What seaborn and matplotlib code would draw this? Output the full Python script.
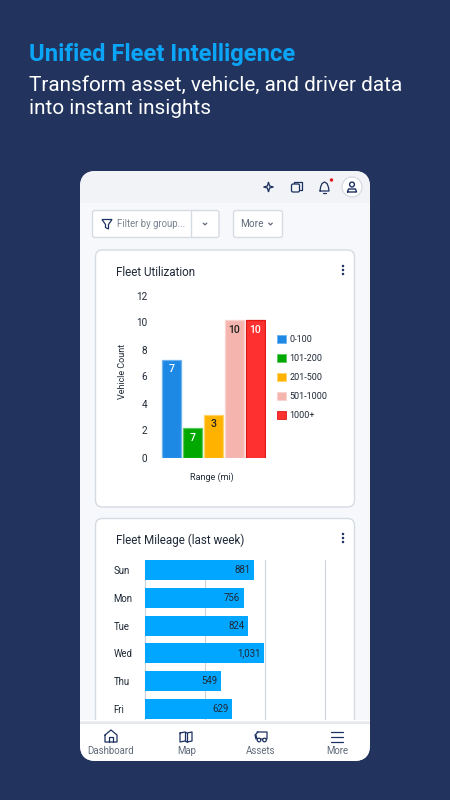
import matplotlib
matplotlib.use("Agg")
import matplotlib.pyplot as plt
import pandas as pd
import seaborn as sns
from matplotlib.patches import Circle, FancyBboxPatch, Polygon, Rectangle

W, H = 450, 800

# ── Data ───────────────────────────────────────────────────────────────────
ranges = ["0-100", "101-200", "201-500", "501-1000", "1000+"]
vehicle_counts = [7.2, 2.15, 3.15, 10.15, 10.15]
count_labels = ["7", "7", "3", "10", "10"]
count_label_colors = ["white", "white", "#222222", "#222222", "white"]
range_colors = ["#1E88E5", "#00A800", "#FFB300", "#F5B5AE", "#FF3030"]
range_edges = ["#6DB3F0", "#5CC85C", "#FFD466", "#F9D3CE", "#E01818"]
count_ticks = [0, 2, 4, 6, 8, 10, 12]

days = ["Sun", "Mon", "Tue", "Wed", "Thu", "Fri"]
mileage_lengths = [913, 825, 861, 995, 636, 727]
mileage_labels = ["881", "756", "824", "1,031", "549", "629"]
mileage_grid = [0, 500, 1000, 1500]

NAVY = "#22335E"
BLUE_TITLE = "#0BA5F7"
INK = "#1F2937"
ICON = "#1D3160"
GREY = "#5F6B7A"
BORDER = "#D5DBE2"

sns.set_theme(style="white")
plt.rcParams["font.family"] = ["Roboto", "DejaVu Sans"]


def px(size):
    """Font size in points from a size in pixels at dpi 100."""
    return size * 0.72


def axes_px(fig, left, top, right, bottom, **kwargs):
    return fig.add_axes(
        [left / W, 1 - bottom / H, (right - left) / W, (bottom - top) / H], **kwargs
    )


def card(ax, x0, y0, x1, y1, r, fc, ec="none", lw=1.0, z=1):
    ax.add_patch(FancyBboxPatch((x0 + r, y0 + r), x1 - x0 - 2 * r, y1 - y0 - 2 * r,
                                boxstyle=f"round,pad={r},rounding_size={r}",
                                fc=fc, ec=ec, lw=lw, zorder=z))


def chevron(ax, x, y, color=GREY):
    ax.plot([x - 1.8, x, x + 1.8], [y - 0.9, y + 0.9, y - 0.9], color=color, lw=0.9, zorder=4)


def kebab(ax, x, y):
    for dy in (-4, 0, 4):
        ax.add_patch(Circle((x, y + dy), 1.25, fc=ICON, ec="none", zorder=4))


fig = plt.figure(figsize=(W / 100, H / 100), dpi=100, facecolor=NAVY)

# ── Background, phone card and panels ──────────────────────────────────────
bg = axes_px(fig, 0, 0, W, H, zorder=0)
bg.set_xlim(0, W)
bg.set_ylim(H, 0)
bg.axis("off")

bg.text(29, 54.5, "Unified Fleet Intelligence", color=BLUE_TITLE, fontsize=px(23.7),
        fontweight="bold", va="center", ha="left")
bg.text(29, 85, "Transform asset, vehicle, and driver data", color="white",
        fontsize=px(20.8), va="center", ha="left")
bg.text(29, 108, "into instant insights", color="white", fontsize=px(20.8),
        va="center", ha="left")

card(bg, 80, 171, 370, 761, 16, "#F7F8FB")
card(bg, 80, 171, 370, 203, 16, "#F1F3F6", z=1.05)
bg.add_patch(Rectangle((80, 190), 290, 13, fc="#F1F3F6", ec="none", zorder=1.1))

# header icons
sparkle = [(268.5, 182), (269.6, 186), (273.5, 187), (269.6, 188), (268.5, 192),
           (267.4, 188), (263.5, 187), (267.4, 186)]
bg.add_patch(Polygon(sparkle, closed=True, fc="none", ec=ICON, lw=0.9, zorder=4))
card(bg, 291.5, 184, 299.5, 192, 1.5, "#F1F3F6", ICON, 0.9, z=4)
bg.plot([294, 294, 302, 302, 299.5], [184, 182, 182, 189.5, 189.5], color=ICON, lw=0.9, zorder=3.9)
bg.plot([320, 320.6, 322, 324.5, 327, 328.4, 329, 320], [191, 187, 183.5, 182, 183.5, 187, 191, 191],
        color=ICON, lw=0.9, zorder=4)
bg.plot([323, 326], [193, 193], color=ICON, lw=0.9, zorder=4)
bg.add_patch(Circle((331.5, 180), 1.7, fc="#E0141E", ec="none", zorder=4))
bg.add_patch(Circle((352, 187), 10, fc="white", ec=BORDER, lw=0.9, zorder=3))
bg.add_patch(Circle((352, 184.5), 2.4, fc="none", ec=ICON, lw=1.0, zorder=4))
bg.plot([347.5, 348.5, 355.5, 356.5, 347.5], [192, 189, 189, 192, 192], color=ICON, lw=1.0, zorder=4)

# filter controls
card(bg, 92.5, 210.5, 219, 237.5, 2.5, "white", BORDER)
bg.plot([191, 191], [211, 237], color=BORDER, lw=1.0, zorder=3)
bg.add_patch(Polygon([(102, 219.5), (112, 219.5), (108.5, 224.5), (108.5, 229), (105.5, 227.5),
                      (105.5, 224.5)], closed=True, fc="none", ec=ICON, lw=0.9, zorder=4))
bg.text(117, 224, "Filter by group...", color="#7A8594", fontsize=px(9.7), va="center")
chevron(bg, 205, 224)
card(bg, 233.5, 210.5, 282.5, 237.5, 2.5, "white", BORDER)
bg.text(240.5, 224, "More", color=GREY, fontsize=px(10), va="center")
chevron(bg, 270.5, 224)

# chart panels
card(bg, 95.5, 250, 354.5, 507, 7, "white", BORDER)
card(bg, 95.5, 518.5, 354.5, 755, 7, "white", BORDER)
bg.text(116, 272, "Fleet Utilization", color=INK, fontsize=px(11.6), va="center")
bg.text(116, 540, "Fleet Mileage (last week)", color=INK, fontsize=px(11.6), va="center")
kebab(bg, 343, 270)
kebab(bg, 343, 538)

# ── Fleet Utilization ──────────────────────────────────────────────────────
util_df = pd.DataFrame({"range": ranges, "count": vehicle_counts})
ax1 = axes_px(fig, 161, 295.5, 266, 457.5, zorder=2)
sns.barplot(data=util_df, x="range", y="count", hue="range", palette=range_colors,
            order=ranges, hue_order=ranges, width=0.88, dodge=False, legend=True,
            saturation=1, ax=ax1)
ax1.patch.set_alpha(0)
sns.despine(ax=ax1, left=True, bottom=True)
ax1.set_ylim(0, 12)
ax1.set_xlim(-0.5, 4.5)
ax1.set_yticks(count_ticks)
ax1.tick_params(axis="y", length=0, pad=10, labelsize=px(10), labelcolor=INK)
ax1.set_xticks([])
ax1.set_xlabel("Range (mi)", fontsize=px(9), color=INK)
ax1.xaxis.set_label_coords(0.48, -0.095)
ax1.set_ylabel("Vehicle Count", fontsize=px(9), color=INK)
ax1.yaxis.set_label_coords(-0.32, 0.53)

for container, label, color, edge in zip(ax1.containers, count_labels, count_label_colors, range_edges):
    for bar in container:
        bar.set_edgecolor(edge)
        bar.set_linewidth(0.9)
    ax1.bar_label(container, labels=[label], label_type="edge", padding=-3,
                  color=color, fontsize=px(10.5), fontweight="medium")
    for text in ax1.texts[-1:]:
        text.set_va("top")

leg = ax1.legend(loc="upper left", bbox_to_anchor=(1.105, 0.755), frameon=False,
                 fontsize=px(9), handlelength=0.95, handleheight=0.95,
                 labelspacing=1.1, handletextpad=0.42, borderpad=0, borderaxespad=0)
for handle, edge in zip(leg.legend_handles, range_edges):
    handle.set_edgecolor(edge)
    handle.set_linewidth(0.6)
for text in leg.get_texts():
    text.set_color(INK)

# ── Fleet Mileage ──────────────────────────────────────────────────────────
mileage_df = pd.DataFrame({"day": days, "miles": mileage_lengths})
ax2 = axes_px(fig, 144.7, 560, 324.7, 723, zorder=2)
ax2.patch.set_alpha(0)
sns.barplot(data=mileage_df, y="day", x="miles", order=days, color="#00A6FF", width=0.72,
            saturation=1, linewidth=0, ax=ax2, zorder=3)
ax2.set_xlim(0, 1500)
ax2.set_ylim(5.5, -0.36)
ax2.set_xticks(mileage_grid)
ax2.set_xticklabels([])
ax2.set_xlabel("")
ax2.set_ylabel("")
ax2.grid(axis="x", color="#CBD2DA", lw=0.8, zorder=0, clip_on=False)
ax2.grid(axis="y", visible=False)
ax2.set_axisbelow(True)
sns.despine(ax=ax2, left=True, bottom=True, right=True, top=True)
ax2.tick_params(axis="both", length=0)
ax2.tick_params(axis="y", pad=22.5, labelsize=px(9.7), labelcolor=INK)
for tick in ax2.get_yticklabels():
    tick.set_ha("left")
ax2.bar_label(ax2.containers[0], labels=mileage_labels, label_type="edge", padding=-2.5,
              color=INK, fontsize=px(9.7))
for text in ax2.texts:
    text.set_ha("right")

# ── Bottom navigation ──────────────────────────────────────────────────────
nav = axes_px(fig, 70, 720, 380, 770, zorder=5)
nav.set_xlim(70, 380)
nav.set_ylim(770, 720)
nav.axis("off")
nav.patch.set_alpha(0)
card(nav, 80, 700, 370, 761, 16, "white", z=2)
nav.add_patch(Rectangle((80, 721), 290, 1, fc="#F0F1F4", ec="none", zorder=3))
nav.add_patch(Rectangle((80, 722), 290, 1.5, fc="#E4E7EC", ec="none", zorder=3))
for x_label, text in zip((111, 186.5, 261, 337), ("Dashboard", "Map", "Assets", "More")):
    nav.text(x_label, 751, text, color=GREY, fontsize=px(9.7), ha="center", va="center", zorder=4)
nav.plot([105, 111, 117, 117, 105, 105], [735, 730, 735, 742, 742, 735], color=ICON, lw=0.9, zorder=4)
nav.plot([109, 109, 113, 113], [742, 737, 737, 742], color=ICON, lw=0.9, zorder=4)
nav.plot([180, 185, 187, 192, 192, 187, 185, 180, 180], [733, 732, 733, 732, 741, 742, 741, 742, 733],
         color=ICON, lw=0.9, zorder=4)
nav.plot([185, 185], [732, 741], color=ICON, lw=0.9, zorder=4)
nav.plot([187, 187], [733, 742], color=ICON, lw=0.9, zorder=4)
nav.plot([257, 267, 267, 257, 256], [732, 732, 739, 739, 735], color=ICON, lw=0.9, zorder=4)
nav.plot([258, 255, 256], [732, 735, 739], color=ICON, lw=0.9, zorder=4)
nav.add_patch(Circle((259, 740), 1.8, fc="white", ec=ICON, lw=0.9, zorder=5))
nav.add_patch(Circle((264.5, 740), 1.8, fc="white", ec=ICON, lw=0.9, zorder=5))
for y_line in (732, 737, 742):
    nav.plot([331, 343], [y_line, y_line], color=ICON, lw=0.9, zorder=4)

fig.savefig("out.png", dpi=100, facecolor=NAVY)
